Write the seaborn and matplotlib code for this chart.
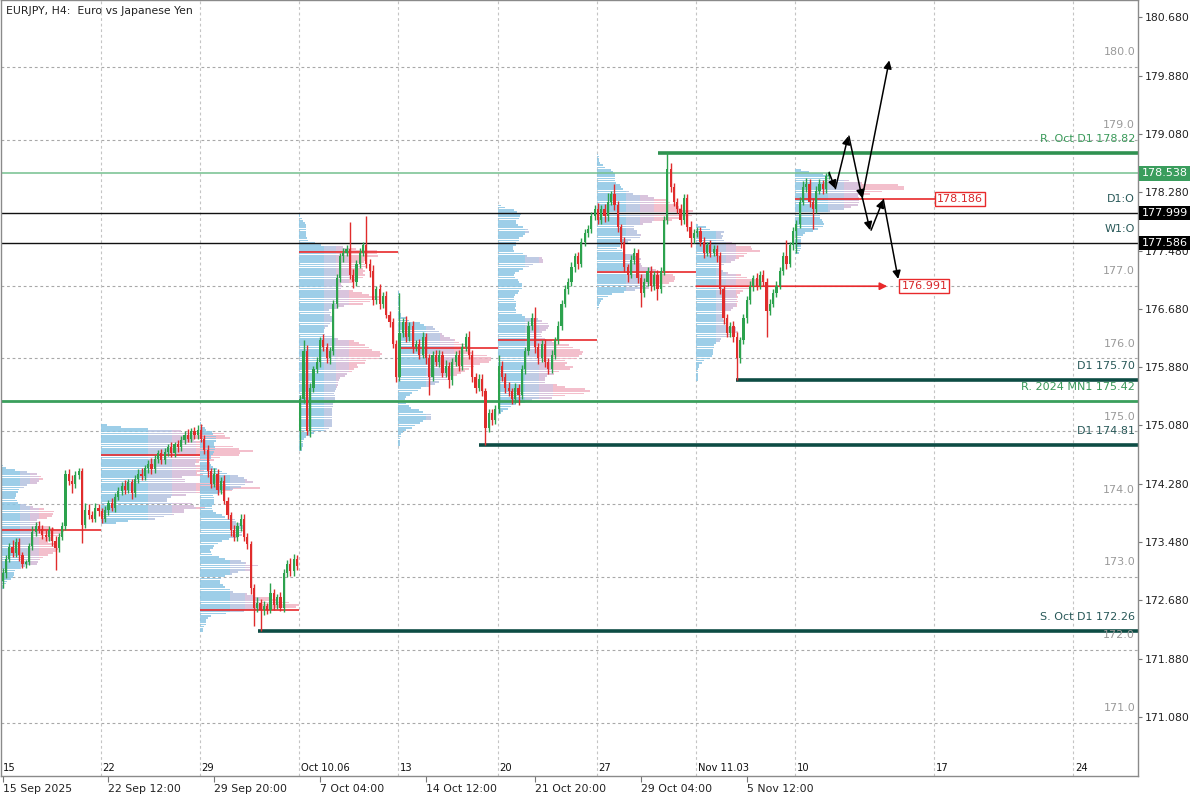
import matplotlib
matplotlib.use('Agg')
import numpy as np
import matplotlib.pyplot as plt
import matplotlib.transforms as mtransforms
import seaborn as sns

sns.set_theme(style='white')
plt.rcParams['font.family'] = ['DejaVu Sans']

# ── H4 closes, one list per trading week (30 bars / week) ───────────────────
close_w1 = [173.05, 173.25, 173.41, 173.33, 173.48, 173.30, 173.18, 173.20, 173.42, 173.62,
            173.70, 173.66, 173.58, 173.55, 173.65, 173.50, 173.40, 173.55, 173.70, 174.42,
            174.32, 174.28, 174.40, 174.46, 173.72, 173.92, 173.85, 173.80, 173.95, 173.90]
close_w2 = [173.80, 173.92, 174.02, 173.95, 174.10, 174.18, 174.25, 174.20, 174.30, 174.15,
            174.35, 174.42, 174.38, 174.50, 174.55, 174.48, 174.62, 174.70, 174.60, 174.72,
            174.78, 174.70, 174.82, 174.78, 174.88, 174.95, 174.90, 175.00, 174.95, 175.02]
close_w3 = [174.90, 174.75, 174.45, 174.28, 174.42, 174.20, 174.32, 174.05, 173.85, 173.65,
            173.55, 173.70, 173.80, 173.55, 173.45, 172.85, 172.58, 172.65, 172.55, 172.60,
            172.55, 172.78, 172.62, 172.72, 172.58, 173.05, 173.18, 173.08, 173.25, 173.15]
close_w4 = [175.45, 176.10, 175.00, 175.60, 175.85, 175.95, 176.25, 176.15, 176.00, 176.10,
            176.75, 177.10, 177.40, 177.45, 177.50, 177.15, 177.05, 177.30, 177.45, 177.55,
            177.30, 177.20, 176.80, 176.95, 176.75, 176.85, 176.60, 176.50, 176.20, 175.75]
close_w5 = [176.35, 176.50, 176.30, 176.45, 176.15, 176.20, 176.05, 176.30, 176.00, 175.75,
            176.05, 175.95, 176.05, 175.80, 175.90, 175.70, 175.95, 176.05, 175.90, 176.15,
            176.30, 176.05, 175.75, 175.60, 175.72, 175.55, 175.05, 175.25, 175.15, 175.30]
close_w6 = [175.90, 175.75, 175.60, 175.55, 175.45, 175.60, 175.50, 175.85, 176.10, 176.45,
            176.55, 176.15, 176.00, 176.20, 175.95, 175.85, 176.05, 176.25, 176.45, 176.75,
            176.95, 177.05, 177.25, 177.40, 177.30, 177.60, 177.72, 177.78, 177.95, 178.05]
close_w7 = [177.90, 178.05, 177.95, 178.15, 178.25, 178.10, 177.80, 177.60, 177.25, 177.15,
            177.35, 177.45, 177.10, 176.90, 177.05, 177.20, 177.00, 177.15, 176.95, 177.20,
            177.90, 178.60, 178.35, 178.15, 178.05, 177.90, 178.20, 177.80, 177.65, 177.72]
close_w8 = [177.75, 177.60, 177.45, 177.55, 177.45, 177.50, 177.40, 176.95, 176.55, 176.35,
            176.45, 176.30, 176.00, 176.25, 176.55, 176.80, 177.00, 177.10, 177.00, 177.15,
            177.05, 176.65, 176.75, 176.90, 177.00, 177.20, 177.40, 177.30, 177.55, 177.75]
close_w9 = [177.85, 178.15, 178.35, 178.40, 178.15, 178.05, 178.30, 178.40, 178.32, 178.50, 178.54]

# opens follow the previous close except at these bars (session gaps)
gap_open = {0: 172.95, 90: 175.00}

# wick length above / below the body
wick_hi = [0.08, 0.05, 0.06, 0.10, 0.05, 0.06, 0.05, 0.04, 0.05, 0.08, 0.06, 0.07, 0.05, 0.06, 0.05,
           0.04, 0.06, 0.05, 0.06, 0.05, 0.06, 0.08, 0.05, 0.04, 0.03, 0.10, 0.08, 0.06, 0.06, 0.05,
           0.05, 0.06, 0.04, 0.07, 0.05, 0.05, 0.06, 0.08, 0.04, 0.05, 0.05, 0.06, 0.07, 0.04, 0.05,
           0.08, 0.05, 0.04, 0.06, 0.05, 0.05, 0.07, 0.04, 0.06, 0.05, 0.05, 0.08, 0.04, 0.06, 0.06,
           0.08, 0.05, 0.06, 0.05, 0.07, 0.06, 0.05, 0.08, 0.05, 0.04, 0.06, 0.05, 0.07, 0.06, 0.05,
           0.04, 0.06, 0.08, 0.05, 0.07, 0.05, 0.14, 0.06, 0.05, 0.07, 0.06, 0.05, 0.08, 0.06, 0.05,
           0.05, 0.15, 0.08, 0.06, 0.05, 0.07, 0.05, 0.08, 0.06, 0.05, 0.05, 0.06, 0.05, 0.07, 0.06,
           0.37, 0.08, 0.05, 0.06, 0.05, 0.40, 0.06, 0.08, 0.05, 0.07, 0.06, 0.08, 0.05, 0.06, 0.05,
           0.55, 0.06, 0.08, 0.05, 0.06, 0.05, 0.07, 0.06, 0.05, 0.06, 0.05, 0.07, 0.06, 0.05, 0.08,
           0.05, 0.06, 0.05, 0.07, 0.06, 0.05, 0.08, 0.06, 0.05, 0.06, 0.07, 0.05, 0.06, 0.05, 0.06,
           0.15, 0.06, 0.05, 0.07, 0.05, 0.06, 0.05, 0.06, 0.05, 0.06, 0.07, 0.15, 0.06, 0.05, 0.07,
           0.05, 0.06, 0.05, 0.06, 0.05, 0.06, 0.05, 0.07, 0.05, 0.06, 0.05, 0.06, 0.05, 0.06, 0.05,
           0.08, 0.06, 0.07, 0.12, 0.05, 0.15, 0.06, 0.05, 0.06, 0.05, 0.07, 0.06, 0.05, 0.06, 0.05,
           0.06, 0.07, 0.05, 0.06, 0.05, 0.06, 0.23, 0.08, 0.06, 0.05, 0.07, 0.06, 0.05, 0.08, 0.05,
           0.06, 0.05, 0.07, 0.05, 0.08, 0.06, 0.05, 0.06, 0.05, 0.06, 0.05, 0.07, 0.06, 0.05, 0.06,
           0.05, 0.06, 0.05, 0.07, 0.05, 0.06, 0.05, 0.06, 0.05, 0.06, 0.05, 0.06, 0.22, 0.05, 0.06,
           0.05, 0.06, 0.08, 0.07, 0.06, 0.05, 0.07, 0.06, 0.05, 0.05, 0.03]
wick_lo = [0.10, 0.06, 0.05, 0.05, 0.06, 0.08, 0.06, 0.05, 0.04, 0.05, 0.06, 0.05, 0.06, 0.06, 0.05,
           0.08, 0.30, 0.05, 0.04, 0.05, 0.05, 0.12, 0.06, 0.05, 0.25, 0.05, 0.06, 0.05, 0.04, 0.06,
           0.06, 0.05, 0.07, 0.05, 0.06, 0.04, 0.05, 0.06, 0.05, 0.08, 0.05, 0.06, 0.05, 0.05, 0.07,
           0.06, 0.05, 0.06, 0.05, 0.05, 0.06, 0.05, 0.05, 0.07, 0.05, 0.06, 0.05, 0.05, 0.06, 0.05,
           0.05, 0.06, 0.08, 0.06, 0.05, 0.07, 0.06, 0.05, 0.06, 0.08, 0.06, 0.05, 0.07, 0.05, 0.06,
           0.08, 0.25, 0.06, 0.29, 0.07, 0.06, 0.05, 0.07, 0.06, 0.05, 0.06, 0.05, 0.06, 0.07, 0.05,
           0.26, 0.06, 0.05, 0.08, 0.06, 0.05, 0.07, 0.05, 0.06, 0.08, 0.05, 0.06, 0.05, 0.07, 0.05,
           0.06, 0.08, 0.05, 0.06, 0.05, 0.06, 0.08, 0.06, 0.05, 0.07, 0.06, 0.05, 0.07, 0.06, 0.08,
           0.06, 0.05, 0.08, 0.06, 0.07, 0.05, 0.06, 0.05, 0.08, 0.25, 0.06, 0.05, 0.07, 0.06, 0.05,
           0.10, 0.06, 0.05, 0.07, 0.06, 0.05, 0.06, 0.08, 0.07, 0.05, 0.06, 0.24, 0.06, 0.07, 0.05,
           0.05, 0.06, 0.08, 0.06, 0.07, 0.06, 0.14, 0.05, 0.06, 0.05, 0.06, 0.07, 0.08, 0.05, 0.07,
           0.06, 0.05, 0.06, 0.05, 0.06, 0.05, 0.06, 0.05, 0.06, 0.07, 0.05, 0.06, 0.05, 0.06, 0.05,
           0.06, 0.05, 0.08, 0.06, 0.05, 0.07, 0.06, 0.08, 0.06, 0.10, 0.05, 0.06, 0.07, 0.20, 0.06,
           0.05, 0.07, 0.06, 0.15, 0.05, 0.06, 0.05, 0.07, 0.06, 0.05, 0.07, 0.06, 0.05, 0.12, 0.06,
           0.05, 0.06, 0.07, 0.05, 0.06, 0.05, 0.07, 0.06, 0.08, 0.06, 0.05, 0.07, 0.30, 0.06, 0.05,
           0.06, 0.05, 0.07, 0.06, 0.05, 0.06, 0.35, 0.06, 0.05, 0.06, 0.05, 0.06, 0.07, 0.05, 0.06,
           0.30, 0.06, 0.05, 0.06, 0.07, 0.27, 0.06, 0.05, 0.07, 0.05, 0.04]

# weekly point of control
poc = [173.65, 174.67, 172.55, 177.46, 176.14, 176.25, 177.18, 176.991, 178.186]

# horizontal levels
lvl_r_oct = 178.82
lvl_last = 178.538
lvl_d1_open = 177.999
lvl_w1_open = 177.586
lvl_d1_hi = 175.70
lvl_mn1 = 175.42
lvl_d1_lo = 174.81
lvl_s_oct = 172.26
round_levels = [171.0, 172.0, 173.0, 174.0, 175.0, 176.0, 177.0, 179.0, 180.0]

# scenario arrows (bar index, price)
arr_x0 = [249.9, 251.8, 255.9, 259.9, 260.0, 262.6, 266.3]
arr_y0 = [178.55, 178.33, 179.05, 178.20, 178.20, 177.76, 178.18]
arr_x1 = [251.8, 255.7, 259.9, 268.1, 262.3, 266.3, 270.8]
arr_y1 = [178.33, 179.05, 178.20, 180.09, 177.76, 178.18, 177.09]

# axes labelling
week_start = [0, 30, 60, 90, 120, 150, 180, 210, 240, 282, 324]
week_text = ['15', '22', '29', 'Oct 10.06', '13', '20', '27', 'Nov 11.03', '10', '17', '24']
date_ticks = [0, 32, 64, 96, 128, 161, 193, 225]
date_text = ['15 Sep 2025', '22 Sep 12:00', '29 Sep 20:00', '7 Oct 04:00',
             '14 Oct 12:00', '21 Oct 20:00', '29 Oct 04:00', '5 Nov 12:00']
price_ticks = [171.08, 171.88, 172.68, 173.48, 174.28, 175.08, 175.88, 176.68,
               177.48, 178.28, 179.08, 179.88, 180.68]

# ── assemble OHLC ───────────────────────────────────────────────────────────
weeks = [close_w1, close_w2, close_w3, close_w4, close_w5, close_w6, close_w7, close_w8, close_w9]
close = np.array(sum(weeks, []))
n = len(close)
opens = np.empty(n)
opens[0] = gap_open[0]
opens[1:] = close[:-1]
for i, v in gap_open.items():
    opens[i] = v
highs = np.maximum(opens, close) + np.array(wick_hi)
lows = np.minimum(opens, close) - np.array(wick_lo)
idx = np.arange(n)

bounds = []
s = 0
for w in weeks:
    bounds.append((s, s + len(w)))
    s += len(w)

# ── figure ──────────────────────────────────────────────────────────────────
fig = plt.figure(figsize=(12, 8), dpi=100)
ax = fig.add_axes([0.0008, 0.03, 0.9475, 0.9695])
X0, X1 = -0.5, 343.3
Y0, Y1 = 170.27, 180.913
ax.set_xlim(X0, X1)
ax.set_ylim(Y0, Y1)
tr_r = mtransforms.blended_transform_factory(ax.transAxes, ax.transData)
tr_b = mtransforms.blended_transform_factory(ax.transData, ax.transAxes)

# grid
for lv in round_levels:
    ax.axhline(lv, color='#a8a8a8', lw=0.8, ls=(0, (2.5, 2.5)), zorder=0)
for ws in week_start[1:]:
    ax.axvline(ws - 0.3, color='#c4c4c4', lw=0.8, ls=(0, (2.5, 2.5)), zorder=0)

# volume profiles: price coverage of the week's bars, lightly smoothed
STEP = 0.03
PROF_MAX = [19, 48, 30, 25, 28, 28, 29, 20, 33]   # bars
SEG_COL = ['#8cc6e4', '#b4c2e0', '#d3bad8', '#f1b4c3']
kern = np.ones(5) / 5
for w, (a, b) in enumerate(bounds):
    lo, hi = lows[a:b], highs[a:b]
    bo, bc = np.minimum(opens[a:b], close[a:b]), np.maximum(opens[a:b], close[a:b])
    levels = np.arange(lo.min(), hi.max() + STEP, STEP)
    in_rng = (lo[:, None] <= levels) & (hi[:, None] >= levels)
    in_body = (bo[:, None] <= levels) & (bc[:, None] >= levels)
    cov = in_rng.sum(axis=0) * 0.4 + in_body.sum(axis=0)
    wt = in_rng * 0.35 + in_body
    spread = (wt / np.maximum(wt.sum(axis=1, keepdims=True), 1e-9)).sum(axis=0)
    raw = 0.55 * cov / cov.max() + 0.45 * spread / spread.max()
    vol = 0.65 * np.convolve(raw, kern, mode='same') + 0.35 * raw
    width = vol / vol.max() * PROF_MAX[w]
    left = week_start[w] - 0.3
    cuts = [0, 0.3 * PROF_MAX[w], 0.45 * PROF_MAX[w], 0.6 * PROF_MAX[w], 1e9]
    for k in range(4):
        seg = np.clip(width - cuts[k], 0, cuts[k + 1] - cuts[k])
        ax.barh(levels, seg, left=left + cuts[k], height=STEP * 0.8,
                color=SEG_COL[k], alpha=0.85, linewidth=0, zorder=1)

# POC lines
for w in range(7):
    ax.hlines(poc[w], week_start[w] - 0.3, week_start[w + 1] - 0.3, color='#e8292b', lw=1.2, zorder=3)
ax.annotate('', xy=(267.5, poc[7]), xytext=(week_start[7] - 0.3, poc[7]),
            arrowprops=dict(arrowstyle='-|>', color='#e8292b', lw=1.2, mutation_scale=11,
                            shrinkA=0, shrinkB=0), zorder=3)
ax.text(271.8, poc[7], f'{poc[7]:.3f}', color='#d8262a', fontsize=8, ha='left', va='center',
        bbox=dict(boxstyle='square,pad=0.18', fc='white', ec='#e8292b', lw=1), zorder=6)
ax.hlines(poc[8], week_start[8] - 0.3, 282.3, color='#e8292b', lw=1.2, zorder=3)
ax.text(282.6, poc[8], f'{poc[8]:.3f}', color='#d8262a', fontsize=8, ha='left', va='center',
        bbox=dict(boxstyle='square,pad=0.18', fc='white', ec='#e8292b', lw=1), zorder=6)

# candles
up = close >= opens
col = np.where(up, '#2ca24d', '#e02c2c')
ax.vlines(idx, lows, highs, colors=col, lw=1.0, zorder=4)
ax.bar(idx, close - opens, bottom=opens, width=0.66, color=col, linewidth=0, zorder=4)

# key levels
ax.axhline(lvl_last, color='#74c08e', lw=1.1, zorder=2)
ax.axhline(lvl_d1_open, color='#111111', lw=1, zorder=2)
ax.axhline(lvl_w1_open, color='#111111', lw=1, zorder=2)
ax.axhline(lvl_mn1, color='#3a9f5c', lw=2, zorder=2)
ax.hlines(lvl_r_oct, 198.3, X1, color='#2f9150', lw=2.6, zorder=2)
ax.hlines(lvl_d1_hi, 221.8, X1, color='#0d4c44', lw=2.6, zorder=2)
ax.hlines(lvl_d1_lo, 143.9, X1, color='#0d4c44', lw=2.6, zorder=2)
ax.hlines(lvl_s_oct, 77.3, X1, color='#0d4c44', lw=2.6, zorder=2)

# labels above levels, right aligned
for lv in round_levels:
    ax.text(0.9975, lv + 0.2, f'{lv:.1f}', transform=tr_r, ha='right', va='center',
            fontsize=8, color='#9a9a9a')
lvl_labels = [(lvl_r_oct, f'R. Oct D1 {lvl_r_oct:.2f}', '#3a9a5a'),
              (lvl_d1_open, 'D1:O', '#285858'),
              (lvl_w1_open, 'W1:O', '#285858'),
              (lvl_d1_hi, f'D1 {lvl_d1_hi:.2f}', '#285858'),
              (lvl_mn1, f'R. 2024 MN1 {lvl_mn1:.2f}', '#3a9a5a'),
              (lvl_d1_lo, f'D1 {lvl_d1_lo:.2f}', '#285858'),
              (lvl_s_oct, f'S. Oct D1 {lvl_s_oct:.2f}', '#285858')]
for lv, txt, c in lvl_labels:
    ax.text(0.9975, lv + 0.19, txt, transform=tr_r, ha='right', va='center', fontsize=8, color=c,
            zorder=5)

# scenario arrows
for x0, y0, x1, y1 in zip(arr_x0, arr_y0, arr_x1, arr_y1):
    ax.annotate('', xy=(x1, y1), xytext=(x0, y0),
                arrowprops=dict(arrowstyle='-|>', color='black', lw=1.1, mutation_scale=12,
                                shrinkA=0, shrinkB=0), zorder=7)

# inner week labels along the bottom
for ws, txt in zip(week_start, week_text):
    ax.text(ws + 0.2, 0.004, txt, transform=tr_b, ha='left', va='bottom', fontsize=7.2,
            color='#111111')

ax.text(0.004, 0.993, 'EURJPY, H4:  Euro vs Japanese Yen', transform=ax.transAxes,
        ha='left', va='top', fontsize=7.8, color='#222222')

# axes
ax.yaxis.tick_right()
ax.set_yticks(price_ticks)
ax.set_yticklabels([f'{p:.3f}' for p in price_ticks])
ax.set_xticks(date_ticks)
ax.set_xticklabels(date_text, ha='left')
ax.tick_params(axis='y', which='both', right=True, left=False, length=3, width=0.8,
               color='#777777', labelsize=7.8, labelcolor='#222222', pad=2)
ax.tick_params(axis='x', which='both', bottom=True, length=4, width=0.8,
               color='#777777', labelsize=7.8, labelcolor='#222222', pad=2)
for sp in ax.spines.values():
    sp.set_color('#8a8a8a')
    sp.set_linewidth(1)

# price tags on the scale
for p, fc in [(lvl_last, '#3a9d5d'), (lvl_d1_open, '#000000'), (lvl_w1_open, '#000000')]:
    ax.text(1.003, p, f'{p:.3f}', transform=tr_r, ha='left', va='center', fontsize=8,
            color='white', clip_on=False, zorder=20,
            bbox=dict(boxstyle='square,pad=0.2', fc=fc, ec=fc, lw=0))

fig.savefig('out.png', dpi=100)
